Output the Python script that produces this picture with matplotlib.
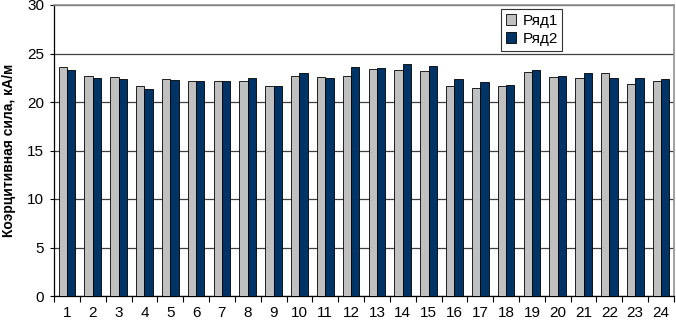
import matplotlib
matplotlib.use("Agg")
import matplotlib.pyplot as plt
import numpy as np

categories = [str(i) for i in range(1, 25)]
series1 = [23.6, 22.7, 22.6, 21.6, 22.4, 22.2, 22.2, 22.2, 21.7, 22.7, 22.6, 22.7,
           23.4, 23.3, 23.2, 21.6, 21.4, 21.7, 23.1, 22.6, 22.5, 23.0, 21.9, 22.2]
series2 = [23.3, 22.5, 22.4, 21.3, 22.3, 22.2, 22.2, 22.5, 21.7, 23.0, 22.5, 23.6,
           23.5, 23.9, 23.7, 22.4, 22.1, 21.8, 23.3, 22.7, 23.0, 22.5, 22.5, 22.4]
series_names = ["Ряд1", "Ряд2"]
y_label = "Коэрцитивная сила, кА/м"
y_ticks = [0, 5, 10, 15, 20, 25, 30]

plt.rcParams['font.family'] = ['Liberation Sans', 'DejaVu Sans']

fig = plt.figure(figsize=(6.76, 3.2), dpi=100)
ax = fig.add_axes([54/676, 1 - 296/320, (674-54)/676, (296-5)/320])

x = np.arange(len(categories))
w = 0.32
ax.bar(x - w/2, series1, w, color='#c0c0c0', edgecolor='black', linewidth=0.6,
       label=series_names[0], zorder=3)
ax.bar(x + w/2, series2, w, color='#003366', edgecolor='black', linewidth=0.6,
       label=series_names[1], zorder=3)

ax.set_xlim(-0.5, len(categories) - 0.5)
ax.set_ylim(0, 30)
ax.set_yticks(y_ticks)
ax.set_yticklabels([str(t) for t in y_ticks], fontsize=11)
ax.set_xticks(x)
ax.set_xticklabels(categories, fontsize=11)
ax.set_xticks(np.arange(-0.5, len(categories)), minor=True)
ax.tick_params(axis='x', which='major', length=0, pad=7)
ax.tick_params(axis='x', which='minor', length=4, width=0.8, direction='out')
ax.tick_params(axis='y', which='major', length=3, width=0.8, direction='out', pad=4)

ax.grid(axis='y', color='#404040', linewidth=0.9, zorder=0)
ax.set_axisbelow(True)

for s in ['top', 'right']:
    ax.spines[s].set_color('#909090')
    ax.spines[s].set_linewidth(1.2)
for s in ['left', 'bottom']:
    ax.spines[s].set_color('black')
    ax.spines[s].set_linewidth(0.9)

ax.set_ylabel(y_label, fontsize=10, fontweight='bold', labelpad=8)

leg = ax.legend(loc='upper left', bbox_to_anchor=((501-54)/620, 1 - 4/291),
                fontsize=11, frameon=True, fancybox=False, edgecolor='black',
                handlelength=0.7, handleheight=0.7, handletextpad=0.4,
                borderpad=0.3, labelspacing=0.3, borderaxespad=0)
leg.get_frame().set_linewidth(0.8)
leg.set_zorder(5)

fig.savefig("out.png", dpi=100)
